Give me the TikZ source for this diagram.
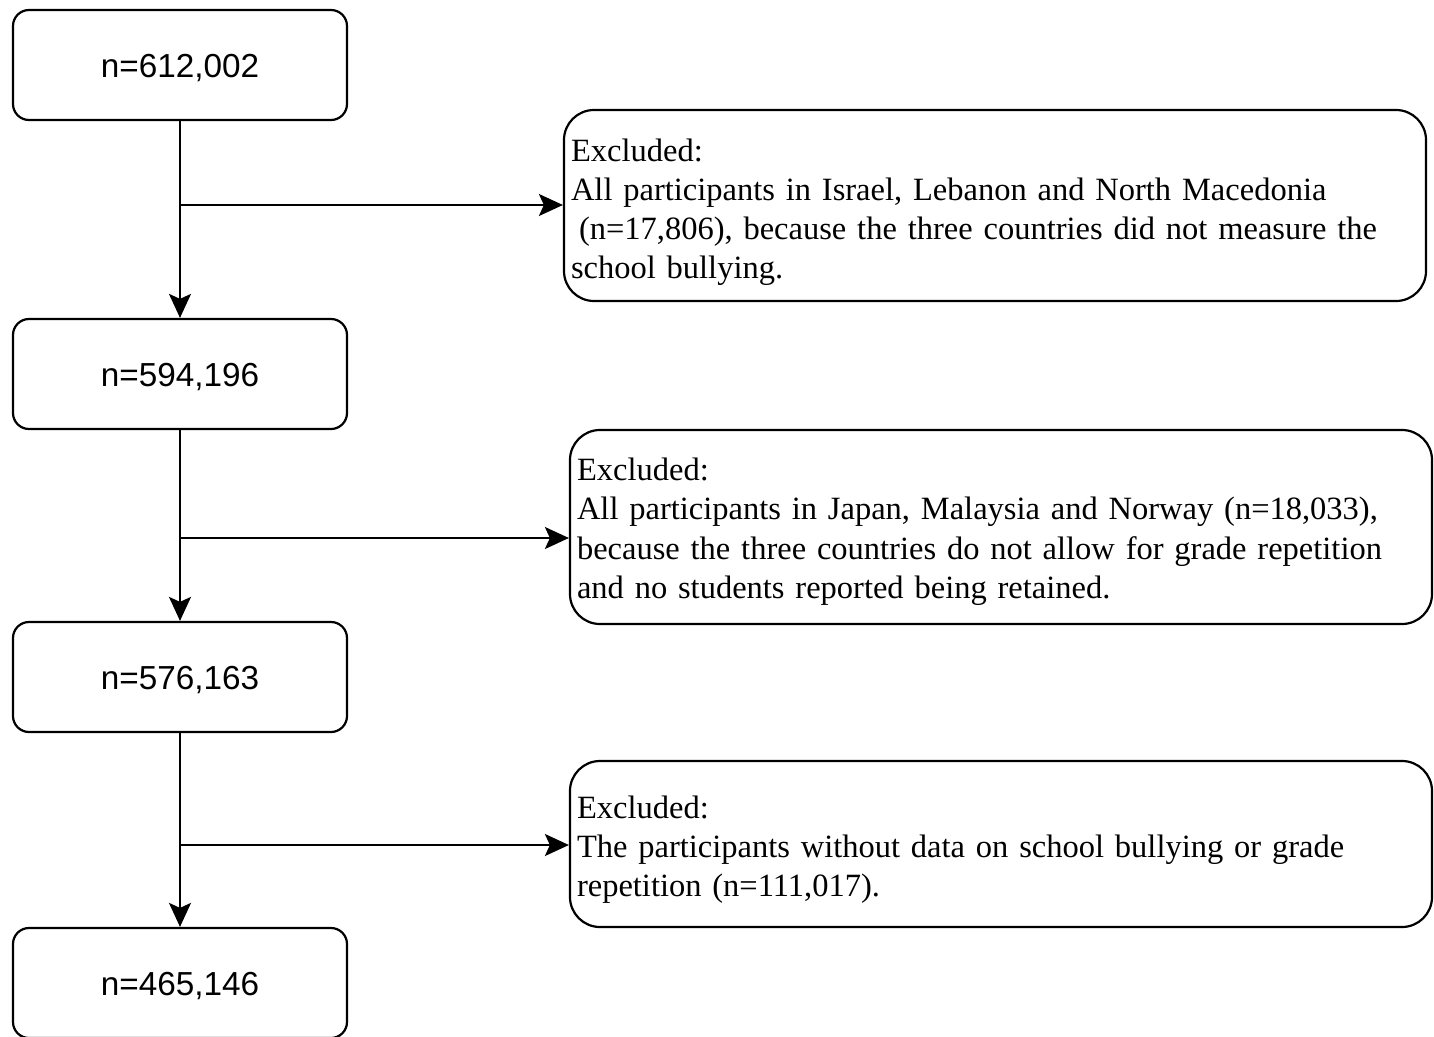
\documentclass[tikz,border=0pt]{standalone}
\usepackage{fontspec}
\setmainfont{Liberation Serif}
\newfontfamily\arialf{Liberation Sans}
\usetikzlibrary{arrows.meta}
\newcommand{\lowr}[1]{\raisebox{-3pt}[\height][\depth]{#1}}
\begin{document}
\begin{tikzpicture}[x=1pt,y=-1pt,
  nbox/.style={draw, line width=2.2pt, rounded corners=16pt, minimum width=334pt, minimum height=110pt, font=\arialf\fontsize{33.3}{38}\selectfont},
  xbox/.style={draw, line width=2.2pt, rounded corners=30pt, minimum width=862pt, inner xsep=7pt, text width=848pt, align=left, font=\fontsize{32.5}{39}\selectfont},
  conn/.style={line width=2.2pt, -{Stealth[length=24pt,width=22pt,inset=5pt]}}]
\useasboundingbox (0,0) rectangle (1434,1036);
\fill[white] (0,0) rectangle (1434,1036);
\node[nbox] (n1) at (180,65) {\lowr{n=612,002}};
\node[nbox] (n2) at (180,374) {\lowr{n=594,196}};
\node[nbox] (n3) at (180,677) {\lowr{n=576,163}};
\node[nbox] (n4) at (180,983) {\lowr{n=465,146}};
\node[xbox, minimum height=191pt] (xa) at (995,205.5) {\rule{0pt}{37pt}Excluded:\\All participants in Israel, Lebanon and North Macedonia\\\hspace*{8pt}(n=17,806), because the three countries did not measure the\\school bullying.};
\node[xbox, minimum height=194pt] (xb) at (1001,527) {\rule{0pt}{32pt}Excluded:\\All participants in Japan, Malaysia and Norway (n=18,033),\\because the three countries do not allow for grade repetition\\and no students reported being retained.};
\node[xbox, minimum height=166pt] (xc) at (1001,844) {\rule{0pt}{33pt}Excluded:\\The participants without data on school bullying or grade\\repetition (n=111,017).};
\draw[conn] (n1) -- (n2);
\draw[conn] (n2) -- (n3);
\draw[conn] (n3) -- (n4);
\coordinate (j1) at (180,205);
\coordinate (j2) at (180,538);
\coordinate (j3) at (180,845);
\draw[conn] (j1) -- (j1 -| xa.west);
\draw[conn] (j2) -- (j2 -| xb.west);
\draw[conn] (j3) -- (j3 -| xc.west);
\end{tikzpicture}
\end{document}
